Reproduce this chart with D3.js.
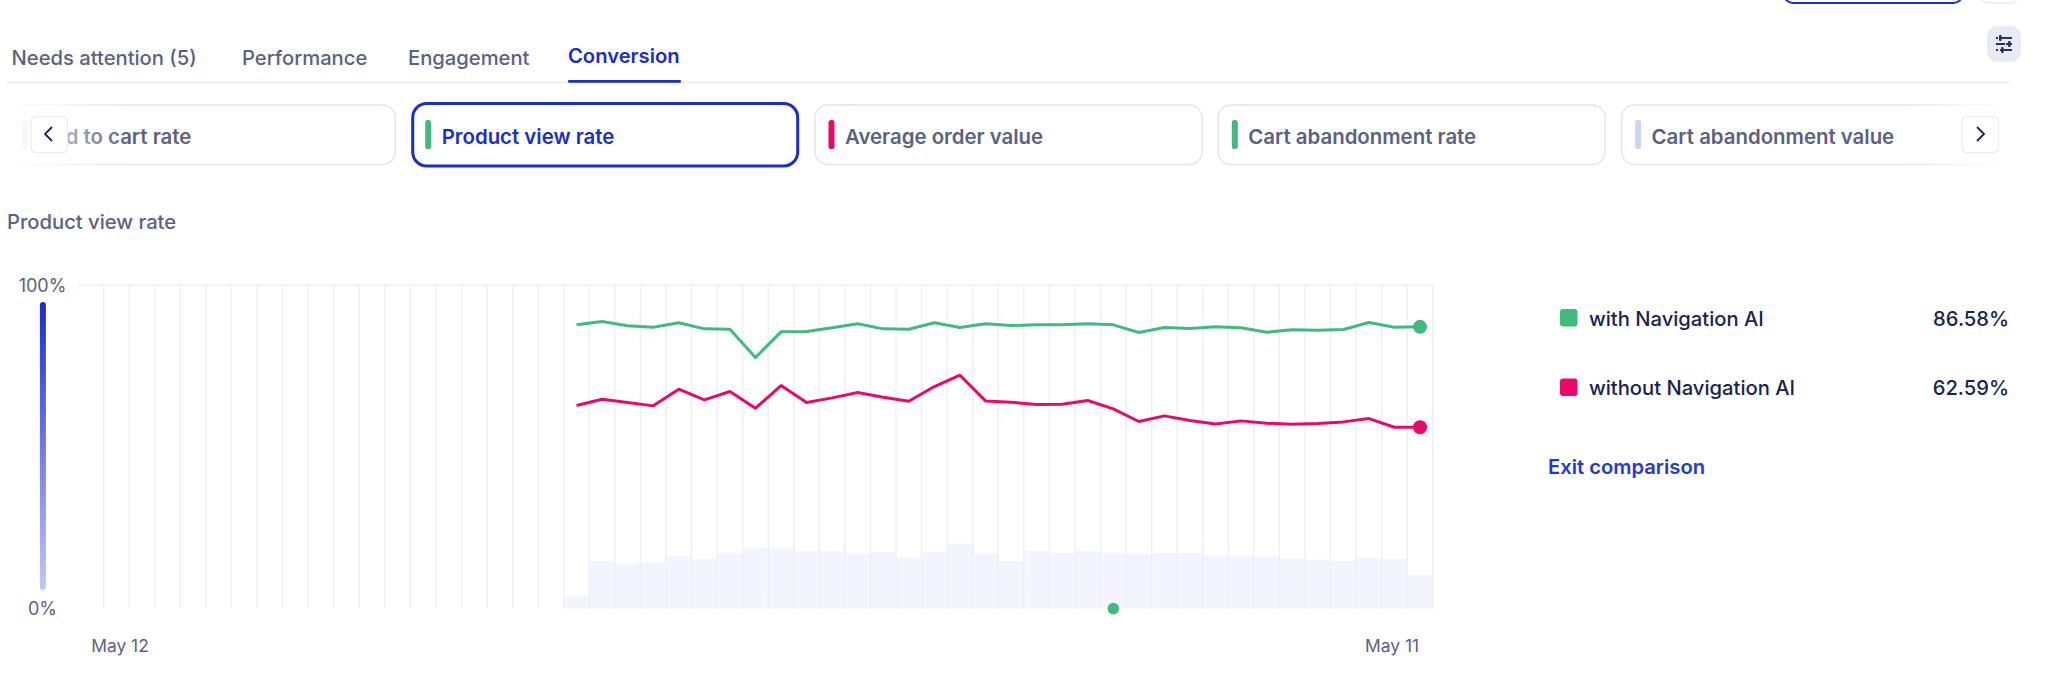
<!DOCTYPE html>
<html>
<head>
<meta charset="utf-8">
<script src="https://cdn.jsdelivr.net/npm/d3@7"></script>
<style>
  html, body { margin: 0; padding: 0; background: #fff; }
  svg { display: block; }
  text { font-family: Inter, "Noto Sans", sans-serif; }
</style>
</head>
<body>
<svg id="chart" width="2048" height="693"></svg>
<script>
// Weekly buckets across the year; only the later ones have recorded data.
const weekCount = 52;
const firstDataWeek = 18;
const xTickLabels = ["May 12", "May 11"];
const yTickValues = [0, 100];

const withNavigationAI = [87.69, 88.72, 87.38, 86.97, 88.31, 86.45, 86.35, 77.59, 85.52, 85.63, 86.76, 88.0, 86.45, 86.35, 88.31, 86.86, 88.0, 87.48, 87.69, 87.69, 88.0, 87.69, 85.32, 86.86, 86.55, 87.07, 86.76, 85.42, 86.14, 86.04, 86.24, 88.41, 86.97, 87.07];
const withoutNavigationAI = [62.75, 64.71, 63.68, 62.65, 67.8, 64.5, 67.08, 61.93, 68.93, 63.68, 65.12, 66.77, 65.33, 64.09, 68.62, 72.13, 64.19, 63.78, 63.06, 63.16, 64.3, 61.72, 57.81, 59.56, 58.11, 57.08, 58.01, 57.29, 56.98, 57.19, 57.7, 58.73, 56.05, 56.05];
const sessionShare = [4.02, 14.73, 13.91, 14.22, 16.17, 15.35, 17.0, 18.85, 18.85, 17.82, 17.82, 16.9, 17.41, 15.87, 17.62, 20.09, 16.9, 14.73, 17.82, 17.2, 17.82, 17.0, 16.9, 17.2, 17.2, 16.38, 16.38, 16.07, 15.45, 15.14, 14.73, 15.76, 15.35, 10.4];
const annotatedWeek = 39;

const seriesNames = ["with Navigation AI", "without Navigation AI"];
const seriesTotals = ["86.58%", "62.59%"];
const tabNames = ["Needs attention (5)", "Performance", "Engagement", "Conversion"];
const metricNames = ["Add to cart rate", "Product view rate", "Average order value", "Cart abandonment rate", "Cart abandonment value"];
const metricColors = ["#ccd5ee", "#41b97f", "#e8096a", "#41b97f", "#ccd5ee"];

const BLUE = "#1a2dcc", SLATE = "#5b6180", INK = "#1b2150", GREEN = "#41b97f", PINK = "#e8096a";
const RULE = "#e6e9f6", GRID = "#ecEEFA", BAR = "#f3f4fe";

const svg = d3.select("#chart");
const defs = svg.append("defs");

/* ---------- page header: tabs and metric cards ---------- */
const tabX = [11.5, 242, 408, 568];
const tabs = svg.append("g");
tabNames.forEach((name, i) => {
  const active = i === tabNames.length - 1;
  tabs.append("text").attr("x", tabX[i]).attr("y", active ? 55 : 57)
    .attr("dominant-baseline", "central")
    .attr("font-size", 20.2).attr("font-weight", active ? 600 : 500)
    .attr("fill", active ? BLUE : SLATE).text(name);
});
svg.append("line").attr("x1", 7).attr("x2", 2010).attr("y1", 82.5).attr("y2", 82.5)
  .attr("stroke", RULE).attr("stroke-width", 1.3);
svg.append("rect").attr("x", 568).attr("y", 80).attr("width", 113).attr("height", 2.8)
  .attr("rx", 1.2).attr("fill", BLUE);

// Controls cut off by the top of the page
svg.append("rect").attr("x", 1784).attr("y", -30).attr("width", 178.5).attr("height", 33)
  .attr("rx", 9).attr("fill", "#fff").attr("stroke", BLUE).attr("stroke-width", 2);
svg.append("rect").attr("x", 1981).attr("y", -30).attr("width", 37).attr("height", 33)
  .attr("rx", 7).attr("fill", "#fff").attr("stroke", RULE).attr("stroke-width", 1.3);

// Filter settings button
svg.append("rect").attr("x", 1987).attr("y", 26).attr("width", 34).attr("height", 36)
  .attr("rx", 10).attr("fill", "#e8ebf5");
[[38, 1997], [44, 2006], [50, 1999]].forEach(([y, knob]) => {
  svg.append("line").attr("x1", 1996).attr("x2", 2012).attr("y1", y).attr("y2", y)
    .attr("stroke", "#2b3160").attr("stroke-width", 1.8).attr("stroke-dasharray", y === 44 ? "9 1 6" : "2 2 12");
  svg.append("rect").attr("x", knob + 2).attr("y", y - 3).attr("width", 2.6).attr("height", 6)
    .attr("rx", 1).attr("fill", "#2b3160");
});

const cardX = i => 8.4 + i * 403.3;
const cardW = 387;
const cards = svg.append("g");
metricNames.forEach((name, i) => {
  const selected = i === 1;
  const c = cards.append("g");
  if (selected) {
    c.append("rect").attr("x", cardX(i) + 1).attr("y", 103.5).attr("width", cardW - 2).attr("height", 62.5)
      .attr("rx", 14).attr("fill", "#fff").attr("stroke", BLUE).attr("stroke-width", 3);
  } else {
    c.append("rect").attr("x", cardX(i)).attr("y", 105).attr("width", cardW).attr("height", 59.5)
      .attr("rx", 13).attr("fill", "#fff").attr("stroke", "#e1e5f5").attr("stroke-width", 1.5);
  }
  c.append("rect").attr("x", cardX(i) + 13.5).attr("y", 120).attr("width", 6).attr("height", 29)
    .attr("rx", 2.5).attr("fill", metricColors[i]);
  c.append("text").attr("x", cardX(i) + 30).attr("y", 136).attr("dominant-baseline", "central")
    .attr("font-size", 20.4).attr("font-weight", 600)
    .attr("fill", selected ? BLUE : SLATE).text(name);
});

// Soft edges where the card strip scrolls out of view
const fade = (id, from, to) => {
  const g = defs.append("linearGradient").attr("id", id);
  g.append("stop").attr("offset", 0).attr("stop-color", "#fff").attr("stop-opacity", from);
  g.append("stop").attr("offset", 1).attr("stop-color", "#fff").attr("stop-opacity", to);
};
fade("fadeLeft", 1, 0);
fade("fadeRight", 0, 1);
svg.append("rect").attr("x", 4).attr("y", 100).attr("width", 126).attr("height", 70).attr("fill", "url(#fadeLeft)");
svg.append("rect").attr("x", 1900).attr("y", 100).attr("width", 112).attr("height", 70).attr("fill", "url(#fadeRight)");

[[31, "M52 127 L45 134 L52 141"], [1962, "M1977 127 L1984 134 L1977 141"]].forEach(([x, d]) => {
  svg.append("rect").attr("x", x).attr("y", 116.5).attr("width", 36.5).attr("height", 36)
    .attr("rx", 5).attr("fill", "#fff").attr("stroke", "#e6e9f6").attr("stroke-width", 1.2);
  svg.append("path").attr("d", d).attr("fill", "none").attr("stroke", INK)
    .attr("stroke-width", 1.8);
});

svg.append("text").attr("x", 7).attr("y", 221.5).attr("dominant-baseline", "central")
  .attr("font-size", 20.2).attr("font-weight", 500).attr("fill", SLATE).text("Product view rate");

/* ---------- chart ---------- */
const x = d3.scaleBand().domain(d3.range(weekCount)).range([103.7, 1432.8]);
const y = d3.scaleLinear().domain([0, 100]).range([608.6, 285]);
const centre = w => x(w) + x.bandwidth() / 2;
const dataWeeks = d3.range(firstDataWeek, weekCount);

svg.append("g").selectAll("rect").data(sessionShare).join("rect")
  .attr("x", (d, i) => x(dataWeeks[i]))
  .attr("y", d => y(d))
  .attr("width", x.bandwidth() + 0.5)
  .attr("height", d => y(0) - y(d))
  .attr("fill", BAR);

svg.append("g").selectAll("line").data(d3.range(weekCount + 1)).join("line")
  .attr("x1", d => 103.7 + d * x.step()).attr("x2", d => 103.7 + d * x.step())
  .attr("y1", y(100)).attr("y2", y(0))
  .attr("stroke", GRID).attr("stroke-width", 1.4);
svg.append("line").attr("x1", 78).attr("x2", 1433).attr("y1", y(100)).attr("y2", y(100))
  .attr("stroke", GRID).attr("stroke-width", 1.4);

// Value ramp beside the axis
const ramp = defs.append("linearGradient").attr("id", "ramp")
  .attr("gradientUnits", "userSpaceOnUse")
  .attr("x1", 0).attr("x2", 0).attr("y1", 302).attr("y2", 590);
ramp.append("stop").attr("offset", 0).attr("stop-color", "#1a2dcc");
ramp.append("stop").attr("offset", 1).attr("stop-color", "#c2c8f6");
svg.append("rect").attr("x", 39.9).attr("y", 302).attr("width", 6).attr("height", 288)
  .attr("rx", 3).attr("fill", "url(#ramp)");

const yAxis = d3.axisLeft(y).tickValues(yTickValues).tickFormat(d => d + "%").tickSize(0);
const yG = svg.append("g").attr("transform", "translate(42.5,0)").call(yAxis);
yG.select(".domain").remove();
yG.selectAll("text").attr("x", 0).attr("dy", "0.35em").attr("text-anchor", "middle")
  .attr("font-size", 18).attr("fill", SLATE).style("font-family", "Inter");

const xAxis = d3.axisBottom(x).tickValues([0, weekCount - 1])
  .tickFormat(d => xTickLabels[d === 0 ? 0 : 1]).tickSize(0);
const xG = svg.append("g").attr("transform", "translate(0,643)").call(xAxis);
xG.select(".domain").remove();
xG.selectAll("text").attr("y", 0).attr("dy", "0.5em").attr("font-size", 17.4)
  .attr("fill", SLATE).style("font-family", "Inter")
  .attr("dx", d => d === 0 ? 3.5 : -28);

const line = d3.line().x((d, i) => centre(dataWeeks[i])).y(d => y(d));
const seriesValues = [withNavigationAI, withoutNavigationAI];
const seriesColors = [GREEN, PINK];
seriesValues.forEach((values, i) => {
  svg.append("path").datum(values).attr("d", line).attr("fill", "none")
    .attr("stroke", seriesColors[i]).attr("stroke-width", 3).attr("stroke-linejoin", "round");
  svg.append("circle").attr("cx", centre(weekCount - 1)).attr("cy", y(values[values.length - 1]))
    .attr("r", 7).attr("fill", seriesColors[i]);
});

svg.append("circle").attr("cx", centre(annotatedWeek)).attr("cy", y(0)).attr("r", 5.8).attr("fill", GREEN);

/* ---------- legend ---------- */
const legendY = [318, 387.5];
seriesNames.forEach((name, i) => {
  svg.append("rect").attr("x", 1560).attr("y", legendY[i] - 9).attr("width", 17.5).attr("height", 17.5)
    .attr("rx", 3).attr("fill", seriesColors[i]);
  svg.append("text").attr("x", 1589).attr("y", legendY[i]).attr("dominant-baseline", "central")
    .attr("font-size", 20.2).attr("font-weight", 500).attr("fill", INK).text(name);
  svg.append("text").attr("x", 2009).attr("y", legendY[i]).attr("dominant-baseline", "central")
    .attr("text-anchor", "end").attr("font-size", 20.2).attr("font-weight", 500).attr("fill", INK)
    .text(seriesTotals[i]);
});
svg.append("text").attr("x", 1548).attr("y", 466).attr("dominant-baseline", "central")
  .attr("font-size", 20.2).attr("font-weight", 600).attr("fill", "#2438d6").text("Exit comparison");
</script>
</body>
</html>
